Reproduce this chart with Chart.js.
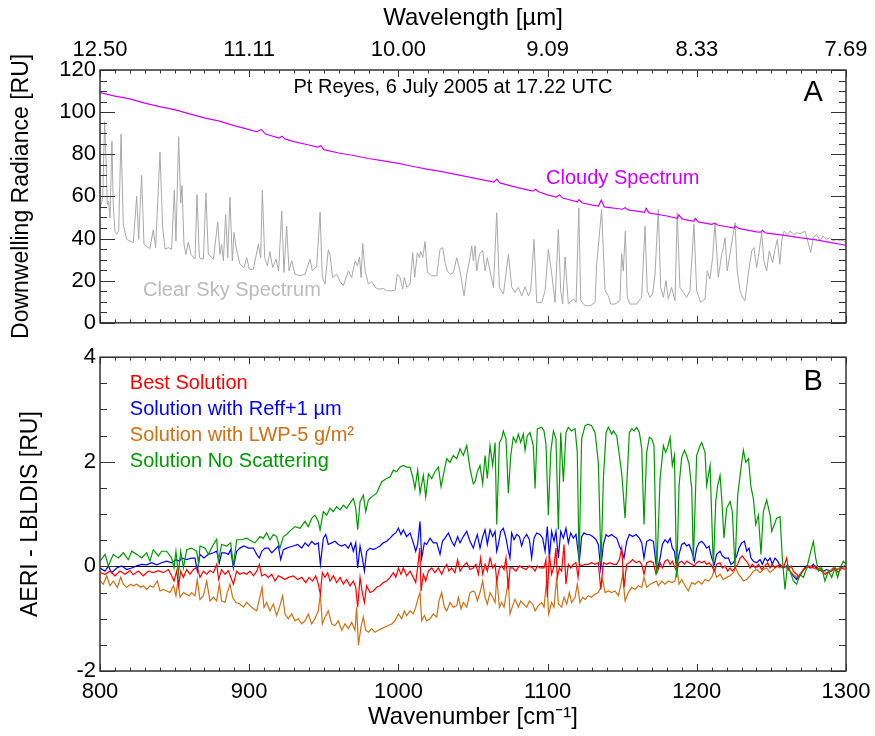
<!DOCTYPE html>
<html>
<head>
<meta charset="utf-8">
<script src="https://cdn.jsdelivr.net/npm/chart.js@4.4.0/dist/chart.umd.min.js"></script>
<style>
  html, body { margin: 0; padding: 0; background: #fff; }
  #wrap { position: relative; width: 875px; height: 736px; }
  canvas { position: absolute; left: 0; }
  #chartA { top: 0; }
  #chartB { top: 340px; }
</style>
</head>
<body>
<div id="wrap">
  <canvas id="chartA" width="875" height="340"></canvas>
  <canvas id="chartB" width="875" height="396"></canvas>
</div>
<script>
// --- Panel A: downwelling radiance [RU] vs wavenumber [cm-1] ---
const cloudyWn = [800,810,820,830,840,850,860,870,880,890,900,905,908,911,920,922,924,930,940,946,948,950,960,970,980,990,
  1000,1010,1020,1030,1040,1050,1060,1064,1066,1068,1080,1090,1092,1094,1100,1106,1108,1110,1120,1121,1123,1130,1134,1136,1138,
  1150,1152,1154,1165,1166,1168,1180,1187,1188,1190,1198,1199,1201,1210,1212,1214,1225,1226,1228,1240,1243,1244,1246,1260,1270,1280,1290,1300];
const cloudyVal = [109.3,107.6,106.3,104.3,102.6,101.2,99.2,97.3,95.7,93.6,91.7,90.7,91.8,89.6,87.7,88.6,87.3,86.0,84.4,83.4,84.2,82.2,80.6,79.4,78.0,76.9,
  75.7,74.2,72.8,71.6,70.2,68.8,67.4,66.8,68.2,66.4,64.2,62.5,63.4,62.2,60.7,59.7,60.8,59.2,57.4,58.4,57.0,55.9,55.4,58.2,55.0,
  53.9,54.6,53.6,52.4,54.3,52.2,50.7,49.6,51.2,49.3,48.2,49.6,47.9,46.7,47.3,46.4,45.0,45.9,44.8,43.2,43.0,43.9,42.7,41.4,40.3,39.4,38.1,36.8];

const clearWn = [800.0,801.8,803.1,804.0,804.9,805.8,806.7,808.0,808.9,810.0,811.2,812.5,814.1,815.6,817.9,820.1,822.3,824.6,825.9,827.9,
  829.5,832.4,833.5,835.7,837.3,840.2,842.0,843.6,845.8,848.0,849.8,850.9,852.7,854.1,855.0,856.3,857.6,859.2,861.0,863.7,
  865.0,866.6,869.3,871.0,872.6,876.0,878.9,880.4,881.5,882.7,884.2,885.6,887.1,888.7,889.8,891.2,893.8,896.5,898.3,900.1,
  902.8,906.1,907.7,908.8,910.4,912.2,913.9,915.7,918.0,919.7,921.8,923.3,925.1,926.7,928.5,930.7,934.0,937.4,940.8,942.3,
  944.1,945.2,947.5,949.0,950.8,953.0,954.2,955.9,958.6,960.9,963.1,
  966.5,968.7,971.0,972.5,973.9,975.0,976.1,977.7,979.9,982.1,984.4,986.6,990.0,992.2,995.5,997.8,999.3,1001.1,1002.9,1004.0,
  1005.6,1007.8,1009.6,1010.9,1012.7,1014.1,1015.0,1016.3,1017.9,1019.4,1022.3,1025.7,1027.9,1029.7,1031.3,1032.8,1034.6,1036.9,1039.1,1041.3,
  1044.0,1045.8,1048.0,1049.1,1050.3,1051.4,1052.5,1054.3,1056.5,1058.1,1059.6,1061.4,1063.7,1065.9,1067.7,1070.4,1073.7,1076.0,1078.2,1080.4,
  1082.7,1084.9,1087.1,1088.7,1090.9,1092.7,1096.1,1098.3,1100.5,1102.8,1105.0,1107.2,1108.8,1110.1,1111.7,1113.9,1117.3,1119.1,1120.9,1122.2,
  1125.1,1128.5,1131.8,
  1132.9,1136.2,1138.5,1140.7,1142.3,1145.2,1148.5,1149.6,1150.7,1152.1,1153.4,1155.2,1159.7,1163.0,1165.3,1166.8,1168.6,1170.4,1172.0,1174.2,
  1175.8,1177.6,1179.3,1180.9,1183.1,1185.4,1186.9,1188.7,1191.0,1193.2,1195.4,1198.1,1199.9,1202.6,1205.5,1207.0,1208.8,1210.6,1212.2,1214.4,
  1216.7,1217.8,1218.9,1220.4,1222.2,1225.6,1227.1,1229.0,1230.7,1232.3,1234.5,1236.8,1238.3,1240.1,1241.2,1243.5,1245.0,1246.8,1248.6,1250.8,
  1252.4,1254.0,1255.7,1256.9,1258.4,1260.7,1262.4,1265.1,1266.9,1269.2,1272.5,1274.7,1276.3,1278.1,1280.3,1282.6,1284.8,1287.0,1289.3,1291.5,
  1293.7,1296.0,1298.2,1299.8];
const clearVal = [53.8,59.3,95.5,78.2,56.1,57.7,49.8,86.1,56.1,43.5,42.0,43.5,89.5,46.7,39.6,38.8,38.0,60.1,39.6,70.0,
  37.2,35.7,35.3,44.1,35.7,81.0,45.1,34.9,35.7,34.9,62.9,38.8,88.3,56.8,65.1,37.2,32.5,38.3,32.5,30.2,
  60.9,30.9,30.2,61.7,32.5,30.2,47.8,32.5,37.2,29.4,51.4,30.9,59.6,29.4,42.8,35.7,27.8,26.2,30.9,25.4,
  25.4,37.2,30.9,62.9,30.9,27.0,33.8,26.2,30.2,24.6,53.0,23.9,45.9,24.6,29.4,23.1,22.3,23.1,30.2,24.6,
  26.2,26.5,52.5,21.5,18.4,34.6,32.2,21.5,23.1,19.6,17.6,
  24.6,21.5,29.4,27.0,31.3,21.5,37.6,24.6,18.4,19.6,16.8,16.0,16.3,15.2,15.2,15.5,23.1,21.5,16.0,21.5,
  16.8,18.4,33.3,21.5,33.3,30.9,34.0,30.9,38.5,24.0,22.3,22.3,34.9,35.7,28.6,24.6,23.1,23.9,30.9,24.6,
  12.8,23.1,30.9,36.5,29.4,36.5,24.6,32.5,34.4,24.6,30.9,24.6,16.8,52.2,16.8,13.6,32.5,16.8,14.4,16.8,
  12.8,17.1,12.8,15.2,39.6,9.7,9.7,15.2,34.9,23.1,9.7,44.3,15.2,8.9,31.3,8.9,11.3,9.7,54.6,10.5,
  8.1,8.1,9.7,
  27.8,53.8,15.2,12.8,8.9,8.9,10.5,32.8,24.6,43.5,12.1,8.9,8.9,12.1,45.9,15.2,12.1,13.6,23.1,53.8,
  16.8,12.1,20.0,11.3,16.8,10.5,52.2,16.8,14.4,12.1,15.2,46.7,15.2,9.7,11.3,24.6,20.7,30.9,47.5,21.5,
  32.5,35.7,40.4,24.6,32.5,47.5,24.6,15.2,12.1,10.5,23.1,34.1,35.7,26.2,30.9,42.8,29.4,24.6,34.1,28.6,
  34.9,39.6,27.8,38.8,43.5,42.0,43.5,42.0,42.8,42.3,43.5,38.0,33.3,40.4,42.0,39.1,41.2,39.6,40.4,38.8,
  39.6,38.8,39.1,38.0];

// --- Panel B: AERI - LBLDIS residuals [RU] ---
const greenWn = [800.0,803.4,805.6,808.9,812.3,815.6,819.0,821.2,824.6,827.9,831.3,833.5,835.7,839.1,841.3,844.7,848.0,849.6,850.9,852.5,
  854.1,855.9,858.1,861.4,864.8,866.1,867.0,870.4,872.6,876.0,878.2,879.3,881.5,884.9,887.6,889.4,891.6,894.9,898.3,901.7,
  903.9,907.2,909.5,911.7,913.9,916.2,918.4,920.6,922.9,925.1,927.3,
  930.7,934.1,937.4,939.6,941.9,944.1,946.3,947.5,949.7,951.9,954.2,956.4,958.6,960.9,963.1,965.3,967.6,969.8,971.4,972.7,
  974.3,976.5,978.1,979.9,982.1,985.4,988.8,992.1,994.4,996.6,998.8,1001.1,1003.3,1005.5,1007.8,1009.6,1011.1,1012.9,1014.5,1016.7,
  1018.3,1020.1,1022.3,1024.5,1026.8,1028.6,1030.1,1032.4,1034.6,1036.8,1039.1,1041.3,1043.5,1045.8,1048.0,1050.2,
  1051.4,1052.9,1054.7,1056.5,1058.1,1059.6,1061.4,1063.2,1064.8,1065.9,1067.7,1069.2,1070.3,1072.1,1073.7,1075.3,1077.0,1078.8,1080.4,1082.0,
  1083.7,1084.9,1086.4,1088.2,1090.4,1091.6,1093.1,1096.0,1097.6,1098.9,1100.5,1102.1,1103.9,1105.6,1107.2,1108.8,1110.6,1112.3,1113.9,1116.1,
  1118.4,1119.9,1121.1,1122.8,1125.1,1127.3,1129.5,1131.8,1134.0,1135.8,1137.4,1139.2,1140.7,1143.0,1144.1,1146.3,1148.1,1149.7,1150.8,1151.9,
  1153.5,1154.8,1156.4,1157.9,1159.7,1161.5,1163.1,1164.6,1166.4,1168.2,1169.8,1171.3,1173.1,
  1175.4,1177.6,1179.1,1180.5,1182.1,1183.6,1185.0,1186.5,1188.1,1189.9,1191.7,1193.2,1194.8,1196.6,1197.7,1199.9,1202.2,1203.3,1205.5,1206.6,
  1208.9,1211.1,1212.7,1214.0,1215.6,1216.7,1218.2,1220.0,1222.3,1223.8,1225.6,1227.4,1229.0,1231.2,1232.8,1234.6,1236.3,1237.9,1239.5,1241.3,
  1243.0,1244.6,1246.8,1249.1,1250.2,1252.0,1253.5,1255.8,1257.3,1259.1,1260.9,1262.5,1264.7,1266.9,1269.2,1271.4,1273.7,1275.9,1278.1,1279.7,
  1281.5,1283.7,1285.9,1288.2,1290.4,1292.6,1294.4,1296.0,1298.2,1300.0];
const greenVal = [0.10,0.23,0.01,0.23,0.16,0.26,0.13,0.29,0.23,0.16,0.26,0.10,0.32,0.20,0.29,0.29,0.16,-0.03,0.29,-0.15,
  0.29,-0.03,0.32,0.35,0.29,0.04,0.39,0.35,0.23,0.42,0.52,0.10,0.42,0.39,0.45,0.01,0.51,0.51,0.54,0.48,
  0.45,0.57,0.54,0.64,0.51,0.61,0.57,0.35,0.57,0.61,0.68,
  0.76,0.73,0.86,0.76,0.92,0.98,0.86,0.70,1.05,0.98,1.11,1.05,1.14,1.08,1.17,1.11,1.21,1.30,1.11,0.70,
  1.24,1.36,1.05,1.27,1.33,1.40,1.62,1.68,1.71,1.84,1.81,1.90,1.93,1.90,1.90,1.71,1.49,1.84,1.40,1.74,
  1.33,1.77,1.68,1.81,1.90,1.52,1.74,2.06,1.99,2.12,2.06,2.25,2.12,2.31,1.87,1.58,
  1.62,1.81,1.93,1.58,2.12,1.68,2.31,1.93,2.37,0.80,2.37,2.44,2.59,2.44,1.40,2.12,2.47,2.37,2.53,2.37,
  2.53,2.22,2.50,2.56,2.31,1.49,2.63,2.66,2.59,2.34,0.98,2.18,2.59,2.44,0.70,2.56,1.62,2.56,2.66,2.59,
  2.63,2.18,0.04,2.44,2.69,2.72,2.69,2.56,1.99,0.04,1.68,2.56,2.66,2.53,2.59,2.50,2.12,1.77,1.36,0.92,
  1.81,2.56,2.63,2.59,2.66,2.56,2.25,0.80,2.18,2.47,2.44,2.31,-0.15,
  1.68,2.31,2.18,2.28,2.47,1.93,2.12,-0.21,1.55,2.09,2.22,2.12,1.96,1.49,0.10,2.12,2.31,2.37,2.18,1.55,
  1.93,-0.03,1.24,1.55,1.74,1.30,0.54,1.11,1.24,1.05,-0.03,1.36,1.74,2.22,1.99,2.06,1.52,1.30,0.80,0.98,
  0.23,1.05,1.27,0.98,0.67,0.80,0.92,0.95,0.16,-0.44,0.04,-0.09,-0.28,-0.34,-0.15,-0.21,-0.03,0.23,0.48,0.16,
  -0.09,-0.03,-0.28,-0.09,-0.21,-0.03,-0.21,-0.03,0.10,0.05];

const blueWn = [800.0,803.4,805.6,807.8,811.2,814.5,817.9,821.2,824.6,827.9,831.3,834.6,838.0,841.3,844.7,848.0,850.9,853.2,854.7,858.1,
  861.4,863.7,865.2,867.0,869.7,872.6,876.0,878.2,880.0,881.5,883.8,886.0,887.6,889.4,891.6,893.8,896.5,899.4,902.8,905.0,
  906.8,908.4,910.6,912.8,915.1,917.3,919.5,921.1,922.9,925.1,927.3,
  929.6,932.5,935.2,937.4,939.6,941.9,944.1,946.3,947.7,949.7,951.3,953.0,955.3,957.5,959.7,962.0,964.2,966.4,968.2,969.8,
  971.4,972.7,974.3,975.8,977.2,978.7,981.0,983.2,985.4,987.7,989.9,992.1,994.4,996.6,998.2,1000.0,1001.7,1003.3,1005.5,1007.8,
  1010.0,1011.6,1012.9,1014.5,1015.6,1017.4,1018.9,1021.2,1023.4,1025.7,1027.9,1029.5,1031.2,1033.5,1035.7,1037.5,1039.7,1041.3,1043.5,1045.8,
  1048.0,1050.2,
  1051.4,1052.9,1054.7,1056.5,1058.1,1059.6,1061.4,1063.2,1064.8,1065.9,1067.0,1068.6,1070.3,1072.1,1073.7,1074.8,1075.9,1077.5,1079.3,1081.1,
  1082.6,1084.2,1086.0,1087.8,1089.3,1090.9,1092.7,1094.9,1096.7,1098.3,1099.8,1101.2,1102.7,1104.3,1105.6,1107.2,1108.8,1110.6,1112.3,1113.9,
  1115.5,1117.3,1119.0,1120.4,1121.3,1122.8,1124.4,1126.2,1128.0,1130.2,1132.5,1134.0,1135.6,1137.4,1139.2,1140.7,1143.0,1144.5,1146.3,1148.1,
  1149.7,1151.2,1153.0,1154.8,1157.0,1159.3,1161.5,1163.1,1164.6,1166.4,1168.6,1170.9,1172.7,
  1173.8,1175.4,1176.9,1178.7,1180.5,1182.1,1183.6,1185.0,1186.5,1188.1,1189.9,1191.7,1193.2,1194.8,1196.6,1198.4,1199.9,1201.5,1203.3,1205.1,
  1206.6,1208.2,1210.0,1211.8,1213.3,1215.6,1217.1,1218.9,1221.2,1222.9,1224.5,1226.7,1228.3,1230.1,1231.9,1233.4,1235.0,1236.3,1237.9,1240.1,
  1242.4,1243.9,1245.7,1247.5,1249.1,1250.6,1252.4,1254.2,1255.8,1258.0,1260.2,1262.5,1264.7,1266.9,1269.2,1271.4,1273.7,1275.9,1278.1,1280.4,
  1282.6,1284.8,1287.1,1289.3,1291.5,1293.8,1296.0,1299.3];
const blueVal = [-0.03,-0.09,0.01,-0.12,-0.03,0.01,-0.06,-0.03,0.01,0.04,0.03,0.07,0.03,0.07,0.10,0.07,0.13,0.10,0.16,0.13,
  0.16,0.16,-0.09,0.23,0.16,0.23,0.26,0.29,0.07,0.26,0.26,0.23,0.32,-0.03,0.29,0.35,0.39,0.35,0.35,0.23,
  0.16,0.29,0.35,0.35,0.26,0.32,0.39,0.13,0.32,0.35,0.37,
  0.39,0.42,0.35,0.45,0.39,0.48,0.42,0.45,0.04,0.54,0.61,0.42,0.45,0.48,0.42,0.39,0.42,0.35,0.45,0.29,
  0.45,-0.03,0.39,0.16,-0.09,0.29,0.35,0.32,0.35,0.39,0.45,0.48,0.54,0.61,0.64,0.73,0.61,0.70,0.57,0.64,
  0.45,0.29,0.42,0.86,0.16,0.45,0.42,0.54,0.45,0.45,0.23,0.48,0.54,0.64,0.48,0.39,0.57,0.45,0.57,0.67,
  0.48,0.35,
  0.48,0.61,0.35,0.57,0.70,0.42,0.70,0.57,0.67,0.29,0.42,0.67,0.73,0.54,0.29,0.16,0.64,0.51,0.61,0.57,
  0.39,0.54,0.61,0.51,0.16,0.54,0.64,0.61,0.54,0.29,0.76,0.16,0.67,0.48,0.67,0.16,0.67,0.54,0.73,0.45,
  0.64,0.54,0.61,0.29,0.10,0.57,0.64,0.61,0.61,0.57,0.51,0.42,-0.05,0.42,0.61,0.57,0.61,0.57,0.54,0.39,
  0.29,0.16,0.48,0.61,0.57,0.61,0.54,0.45,0.16,0.48,0.51,0.48,0.04,
  -0.03,0.16,0.42,0.51,0.45,0.54,0.35,0.29,-0.03,0.23,0.42,0.45,0.39,0.42,0.29,0.10,0.35,0.45,0.48,0.42,
  0.35,0.39,0.16,0.04,0.23,0.29,0.20,0.16,0.16,0.04,0.07,0.20,0.35,0.45,0.48,0.29,0.35,0.16,0.10,0.07,
  0.13,0.04,0.16,0.10,0.16,0.04,0.16,0.10,0.01,-0.03,0.01,-0.09,-0.18,-0.25,-0.15,-0.06,0.01,-0.03,0.04,-0.06,
  -0.03,-0.09,-0.06,-0.09,-0.03,-0.06,-0.03,0.01];

const redWn = [800.0,803.4,806.7,810.1,813.4,816.8,820.1,822.3,825.7,829.0,832.4,835.7,839.1,842.4,845.8,848.0,849.6,851.4,852.7,854.1,
  855.9,858.1,860.3,862.6,865.2,867.0,869.3,871.5,873.7,876.0,878.2,879.5,881.5,883.8,886.0,888.2,889.4,891.6,893.8,896.1,
  898.3,900.5,902.8,905.0,906.8,908.4,910.6,912.8,915.1,917.3,919.5,921.8,924.0,926.2,
  929.6,932.5,935.2,937.9,940.1,942.3,944.6,946.3,947.7,949.0,950.8,952.6,954.2,956.4,958.6,960.9,963.1,965.3,967.6,969.8,
  971.4,972.7,974.3,975.8,977.2,978.7,981.0,983.2,985.4,987.7,989.9,992.1,994.4,996.6,998.2,1000.0,1001.7,1003.3,1005.5,1007.8,
  1010.0,1011.6,1013.4,1014.3,1015.2,1016.7,1018.3,1020.1,1022.3,1024.5,1026.8,1029.0,1030.8,1032.4,1033.9,1035.7,1037.9,1039.7,1041.3,1043.5,
  1045.8,1048.0,1050.2,
  1052.0,1053.6,1055.1,1056.5,1058.1,1059.6,1061.4,1063.2,1064.8,1065.9,1067.7,1069.2,1070.8,1072.1,1073.7,1074.8,1076.6,1078.8,1081.1,1083.3,
  1085.5,1087.8,1090.0,1091.6,1093.1,1094.9,1097.6,1098.9,1099.8,1101.2,1102.7,1104.3,1105.6,1106.5,1107.9,1109.4,1111.0,1112.3,1113.9,1115.5,
  1117.3,1119.0,1120.4,1121.3,1122.8,1125.1,1127.3,1129.5,1131.8,1134.0,1135.6,1137.4,1139.6,1141.8,1144.1,1146.3,1148.1,1149.7,1151.2,1153.0,
  1154.8,1157.0,1159.3,1161.5,1163.1,1164.6,1166.4,1168.6,1170.9,1172.7,
  1173.8,1175.4,1176.9,1178.7,1180.5,1182.1,1183.6,1185.4,1186.5,1188.1,1189.9,1191.7,1193.2,1194.8,1196.6,1198.4,1199.9,1201.5,1203.3,1205.1,
  1206.6,1208.2,1210.0,1211.8,1213.3,1215.6,1217.1,1218.9,1220.7,1222.3,1223.8,1225.6,1227.4,1229.0,1230.5,1232.3,1234.1,1235.7,1237.2,1239.4,
  1241.3,1243.5,1245.7,1247.5,1249.1,1250.6,1252.4,1254.2,1255.8,1258.0,1260.2,1261.4,1263.2,1264.7,1266.9,1268.5,1270.3,1272.5,1274.8,1277.0,
  1279.2,1281.5,1283.7,1285.9,1288.2,1290.4,1292.6,1294.9,1297.1,1299.3];
const redVal = [-0.12,-0.15,-0.09,-0.18,-0.09,-0.15,-0.08,-0.16,-0.09,-0.18,-0.09,-0.12,-0.08,-0.12,-0.06,-0.18,-0.28,-0.09,-0.37,-0.09,
  -0.21,-0.06,-0.15,-0.06,-0.01,-0.21,-0.09,-0.15,-0.08,-0.12,0.04,-0.25,-0.06,-0.15,-0.08,-0.25,-0.34,-0.09,-0.15,-0.12,
  -0.15,-0.09,-0.18,-0.09,0.04,-0.18,-0.15,-0.21,-0.15,-0.28,-0.18,-0.21,-0.25,-0.21,
  -0.18,-0.25,-0.21,-0.31,-0.21,-0.28,-0.18,-0.34,-0.53,-0.12,-0.21,-0.12,-0.28,-0.18,-0.31,-0.21,-0.34,-0.25,-0.37,-0.28,
  -0.40,-0.78,-0.21,-0.50,-0.69,-0.37,-0.50,-0.47,-0.40,-0.37,-0.31,-0.28,-0.21,-0.12,-0.21,-0.03,-0.15,-0.03,-0.18,-0.09,
  -0.21,-0.31,0.10,0.35,-0.47,-0.15,-0.28,-0.09,-0.03,-0.12,-0.03,-0.15,-0.03,0.04,-0.09,-0.03,-0.12,0.13,-0.09,0.01,
  0.07,-0.06,-0.03,
  0.04,-0.15,0.16,-0.15,0.04,-0.09,0.16,-0.03,0.04,-0.28,-0.03,0.01,-0.06,0.16,-0.44,-0.03,-0.03,-0.09,0.01,-0.03,
  -0.06,0.01,-0.03,-0.09,0.01,-0.03,-0.03,0.13,-0.59,0.23,-0.15,0.01,0.35,-0.21,-0.03,-0.09,0.42,-0.34,0.04,-0.03,
  0.04,0.07,-0.21,0.04,0.01,0.04,0.04,0.07,0.04,0.07,-0.44,0.07,0.04,0.07,0.04,0.04,0.13,0.35,-0.40,0.04,
  0.07,0.13,0.07,0.10,0.04,-0.15,0.07,0.10,0.07,-0.15,
  -0.09,0.07,-0.03,0.10,0.13,0.04,0.10,-0.03,-0.09,0.07,0.10,0.04,0.10,0.07,0.04,0.01,0.07,0.10,0.07,0.10,
  0.04,0.07,0.01,-0.09,0.04,0.07,-0.03,0.01,-0.09,-0.03,-0.09,-0.03,0.04,0.16,0.20,0.13,0.07,-0.03,0.04,-0.03,
  0.04,-0.06,0.01,0.07,-0.03,0.04,-0.03,0.01,0.04,-0.03,0.16,-0.06,0.01,-0.09,-0.15,-0.21,-0.12,-0.03,0.01,-0.03,
  0.01,-0.06,-0.09,-0.15,-0.12,-0.09,-0.03,-0.12,-0.03,-0.06];

const orangeWn = [800.0,802.2,804.5,806.7,808.9,811.6,813.9,815.6,817.9,820.6,822.3,824.6,827.3,829.0,831.3,833.5,835.7,838.4,840.2,842.4,
  844.7,846.9,849.2,850.9,852.3,853.6,855.9,857.6,859.9,861.4,863.7,865.2,867.0,869.3,871.5,873.7,876.0,878.2,880.0,881.5,
  883.8,885.3,887.1,888.9,891.2,893.8,896.1,898.3,900.5,902.8,905.0,906.8,908.6,909.9,911.7,913.9,916.2,918.4,920.6,922.4,
  924.0,926.2,
  928.5,930.7,932.9,935.2,937.4,939.6,941.9,944.1,946.3,947.7,949.0,950.8,953.0,955.3,957.5,959.7,962.0,964.2,966.4,968.7,
  970.9,972.0,973.2,974.9,976.5,978.1,979.9,982.1,984.3,986.6,988.8,991.0,993.3,995.5,997.7,1000.0,1002.2,1004.0,1005.5,1007.8,
  1010.0,1011.6,1013.4,1014.5,1015.6,1017.4,1018.9,1021.2,1023.4,1025.7,1027.2,1029.0,1030.8,1032.4,1034.6,1036.8,1039.1,1040.2,1042.0,1043.5,
  1045.8,1048.0,1050.2,
  1051.4,1052.9,1054.7,1056.5,1058.1,1059.6,1061.4,1063.2,1064.8,1065.9,1067.7,1069.2,1070.8,1072.6,1073.7,1074.8,1076.6,1078.2,1080.4,1082.0,
  1083.7,1086.0,1087.8,1090.0,1091.6,1093.8,1096.0,1097.6,1099.4,1100.7,1102.7,1104.3,1106.1,1107.2,1109.4,1111.0,1112.8,1114.6,1116.1,1118.4,
  1119.9,1121.7,1123.5,1125.1,1127.3,1129.5,1131.8,1134.0,1135.6,1136.9,1138.5,1140.7,1143.0,1145.2,1147.4,1149.0,1150.3,1151.9,1154.1,1156.4,
  1158.6,1160.8,1163.1,1164.6,1166.4,1168.6,1170.9,1173.1,
  1174.2,1176.5,1178.7,1180.9,1183.2,1185.4,1186.7,1188.1,1189.9,1192.1,1194.3,1196.6,1198.8,1201.0,1203.3,1205.5,1207.7,1210.0,1211.8,1213.3,
  1215.6,1217.8,1220.0,1222.3,1224.5,1226.1,1227.9,1229.6,1231.2,1233.4,1235.7,1237.9,1240.1,1242.4,1244.6,1246.8,1249.1,1251.3,1253.5,1255.8,
  1258.0,1260.2,1262.5,1264.7,1266.9,1269.2,1271.4,1273.7,1275.9,1278.1,1280.4,1282.6,1284.8,1287.1,1289.3,1291.5,1293.8,1296.0,1299.3];
const orangeVal = [-0.28,-0.34,-0.18,-0.37,-0.28,-0.40,-0.21,-0.34,-0.40,-0.34,-0.37,-0.34,-0.40,-0.37,-0.44,-0.37,-0.40,-0.28,-0.47,-0.44,
  -0.47,-0.50,-0.37,-0.56,-0.25,-0.59,-0.50,-0.53,-0.56,-0.50,-0.56,-0.25,-0.63,-0.56,-0.28,-0.66,-0.59,-0.66,-0.34,-0.66,
  -0.69,-0.50,-0.34,-0.59,-0.69,-0.72,-0.78,-0.69,-0.75,-0.81,-0.85,-0.63,-0.40,-0.78,-0.69,-0.85,-0.72,-0.94,-0.75,-0.56,
  -0.91,-1.00,
  -0.91,-1.04,-1.00,-1.10,-1.04,-0.91,-1.10,-1.00,-0.85,-0.53,-1.10,-0.97,-0.85,-1.10,-1.13,-1.04,-1.22,-1.10,-1.19,-1.07,
  -1.22,-0.78,-1.51,-1.16,-0.97,-1.22,-1.26,-1.19,-1.26,-1.22,-1.19,-1.16,-1.13,-1.10,-1.04,-0.91,-1.00,-0.85,-0.94,-0.85,
  -0.91,-0.78,-0.59,-0.50,-1.04,-0.94,-1.04,-1.00,-0.91,-0.97,-0.66,-0.50,-0.78,-0.85,-0.69,-0.78,-0.75,-0.59,-0.81,-0.69,
  -0.78,-0.50,-0.47,
  -0.50,-0.66,-0.50,-0.28,-0.59,-0.72,-0.50,-0.59,-0.69,-0.21,-0.78,-0.69,-0.78,-0.47,-0.28,-0.91,-0.75,-0.63,-0.78,-0.66,
  -0.72,-0.78,-0.66,-0.72,-0.85,-0.75,-0.69,-0.78,-0.25,-0.91,-0.69,-0.78,-0.21,-0.72,-0.78,-0.59,-0.72,-0.50,-0.69,-0.59,
  -0.34,-0.69,-0.59,-0.63,-0.56,-0.59,-0.53,-0.50,-0.40,-0.25,-0.50,-0.47,-0.50,-0.47,-0.56,-0.37,-0.15,-0.66,-0.50,-0.40,
  -0.44,-0.37,-0.40,-0.21,-0.40,-0.34,-0.31,-0.28,
  -0.37,-0.28,-0.34,-0.28,-0.31,-0.28,-0.03,-0.34,-0.25,-0.37,-0.47,-0.31,-0.34,-0.28,-0.34,-0.25,-0.28,-0.21,-0.06,-0.21,
  -0.15,-0.25,-0.21,-0.18,-0.12,-0.03,-0.15,-0.21,-0.28,-0.25,-0.18,-0.09,-0.06,-0.12,-0.06,-0.03,-0.12,-0.06,0.01,-0.03,
  0.01,-0.03,-0.09,-0.15,-0.21,-0.15,-0.06,-0.03,0.01,-0.03,-0.06,-0.03,-0.09,-0.12,-0.09,-0.03,-0.06,-0.03,-0.03];

// --- Styling ---
const FONT = "'Liberation Sans', Arial, Helvetica, sans-serif";
const MAGENTA = '#cc00ff';
const GRAY = '#a8a8a8';
const RED = '#ff0000';
const BLUE = '#0000ff';
const ORANGE = '#d07010';
const GREEN = '#009a00';

Chart.defaults.font.family = FONT;
Chart.defaults.color = '#000';

const toXY = (xs, ys) => xs.map((x, i) => ({ x, y: ys[i] }));

// Inward IDL-style ticks, box, zero line and in-plot text
const frame = {
  id: 'frame',
  beforeDatasetsDraw(chart, args, opts) {
    if (!opts.zeroLine) return;
    const { ctx, chartArea: a } = chart;
    const py = Math.round(chart.scales.y.getPixelForValue(0)) + 0.5;
    ctx.save();
    ctx.strokeStyle = '#000';
    ctx.lineWidth = 1.2;
    ctx.beginPath();
    ctx.moveTo(a.left, py);
    ctx.lineTo(a.right, py);
    ctx.stroke();
    ctx.restore();
  },
  afterDatasetsDraw(chart, args, opts) {
    const { ctx, chartArea: a } = chart;
    const xs = chart.scales.x, ys = chart.scales.y;
    ctx.save();
    ctx.strokeStyle = '#333';
    ctx.lineWidth = 1;
    ctx.beginPath();
    const xMaj = xs.ticks.map(t => t.value);
    const nx = Math.round((xs.max - xs.min) / opts.xMinor);
    for (let i = 0; i <= nx; i++) {
      const v = xs.min + i * opts.xMinor;
      const len = xMaj.some(m => Math.abs(m - v) < 1e-6) ? 7 : 3.5;
      const px = Math.round(xs.getPixelForValue(v)) + 0.5;
      ctx.moveTo(px, a.top); ctx.lineTo(px, a.top + len);
      ctx.moveTo(px, a.bottom); ctx.lineTo(px, a.bottom - len);
    }
    const yMaj = ys.ticks.map(t => t.value);
    const ny = Math.round((ys.max - ys.min) / opts.yMinor);
    for (let i = 0; i <= ny; i++) {
      const v = ys.min + i * opts.yMinor;
      const len = yMaj.some(m => Math.abs(m - v) < 1e-6) ? 15 : 7;
      const py = Math.round(ys.getPixelForValue(v)) + 0.5;
      ctx.moveTo(a.left, py); ctx.lineTo(a.left + len, py);
      ctx.moveTo(a.right, py); ctx.lineTo(a.right - len, py);
    }
    ctx.stroke();
    ctx.lineWidth = 1.5;
    ctx.strokeRect(a.left, a.top, a.right - a.left, a.bottom - a.top);

    ctx.textBaseline = 'middle';
    (opts.texts || []).forEach(t => {
      ctx.font = `${t.size}px ${FONT}`;
      ctx.fillStyle = t.color;
      ctx.textAlign = t.align || 'left';
      ctx.fillText(t.text, xs.getPixelForValue(t.x), ys.getPixelForValue(t.y));
    });
    ctx.restore();
  }
};

const lineSet = (label, xs, ys, color, width) => ({
  label, data: toXY(xs, ys), borderColor: color, borderWidth: width,
  pointRadius: 0, tension: 0, fill: false
});

// grid hidden; tickLength only offsets the labels (marks are drawn inward by the plugin)
const noGrid = { display: false, drawTicks: true, tickLength: 5 };

// --- Panel A ---
new Chart(document.getElementById('chartA'), {
  type: 'line',
  data: {
    datasets: [
      lineSet('Cloudy Spectrum', cloudyWn, cloudyVal, MAGENTA, 1.2),
      lineSet('Clear Sky Spectrum', clearWn, clearVal, GRAY, 1)
    ]
  },
  options: {
    responsive: false, animation: false, devicePixelRatio: 1,
    layout: { padding: { left: 0, right: 29, top: 0, bottom: 14 } },
    plugins: {
      legend: { display: false }, tooltip: { enabled: false },
      frame: {
        xMinor: 10, yMinor: 5,
        texts: [
          { text: 'Pt Reyes, 6 July 2005 at 17.22 UTC', x: 1036.6, y: 111.7, size: 20, color: '#000', align: 'center' },
          { text: 'A', x: 1278, y: 109, size: 29, color: '#000', align: 'center' },
          { text: 'Cloudy Spectrum', x: 1099, y: 68.3, size: 20, color: MAGENTA },
          { text: 'Clear Sky Spectrum', x: 828.8, y: 15.4, size: 20, color: '#bbbbbb' }
        ]
      }
    },
    scales: {
      x: {
        type: 'linear', position: 'top', min: 800, max: 1300,
        afterFit: s => { s.height = 70; },
        grid: noGrid, border: { display: false },
        ticks: { stepSize: 100, autoSkip: false, maxRotation: 0, padding: 2, font: { size: 22 },
          callback: v => (10000 / v).toFixed(2) },
        title: { display: true, text: 'Wavelength [µm]', font: { size: 24 }, padding: { top: 4, bottom: 0 } }
      },
      y: {
        min: 0, max: 120,
        afterFit: s => { s.width = 100; },
        grid: { display: false, drawTicks: false }, border: { display: false },
        ticks: { stepSize: 20, padding: 4, font: { size: 22 } },
        title: { display: true, text: 'Downwelling Radiance [RU]', font: { size: 23 }, padding: { top: 8, bottom: 0 } }
      }
    }
  },
  plugins: [frame]
});

// --- Panel B ---
new Chart(document.getElementById('chartB'), {
  type: 'line',
  data: {
    datasets: [
      lineSet('Solution No Scattering', greenWn, greenVal, GREEN, 1.2),
      lineSet('Best Solution', redWn, redVal, RED, 1.2),
      lineSet('Solution with LWP-5 g/m²', orangeWn, orangeVal, ORANGE, 1.2),
      lineSet('Solution with Reff+1 µm', blueWn, blueVal, BLUE, 1.2)
    ]
  },
  options: {
    responsive: false, animation: false, devicePixelRatio: 1,
    layout: { padding: { left: 0, right: 29, top: 14, bottom: 0 } },
    plugins: {
      legend: { display: false }, tooltip: { enabled: false },
      frame: {
        xMinor: 10, yMinor: 0.5, zeroLine: true,
        texts: [
          { text: 'B', x: 1278, y: 3.52, size: 29, color: '#000', align: 'center' },
          { text: 'Best Solution', x: 820, y: 3.5, size: 20, color: RED },
          { text: 'Solution with Reff+1 µm', x: 820, y: 3.0, size: 20, color: BLUE },
          { text: 'Solution with LWP-5 g/m²', x: 820, y: 2.5, size: 20, color: ORANGE },
          { text: 'Solution No Scattering', x: 820, y: 2.0, size: 20, color: GREEN }
        ]
      }
    },
    scales: {
      x: {
        type: 'linear', position: 'bottom', min: 800, max: 1300,
        afterFit: s => { s.height = 65; },
        grid: noGrid, border: { display: false },
        ticks: { stepSize: 100, autoSkip: false, maxRotation: 0, padding: 3, font: { size: 22 },
          callback: v => String(v) },
        title: { display: true, text: 'Wavenumber [cm⁻¹]', font: { size: 24 }, padding: { top: 0, bottom: 4 } }
      },
      y: {
        min: -2, max: 4,
        afterFit: s => { s.width = 100; },
        grid: { display: false, drawTicks: false }, border: { display: false },
        ticks: { stepSize: 2, padding: 4, font: { size: 22 } },
        title: { display: true, text: 'AERI - LBLDIS [RU]', font: { size: 23 }, padding: { top: 17, bottom: 0 } }
      }
    }
  },
  plugins: [frame]
});
</script>
</body>
</html>
